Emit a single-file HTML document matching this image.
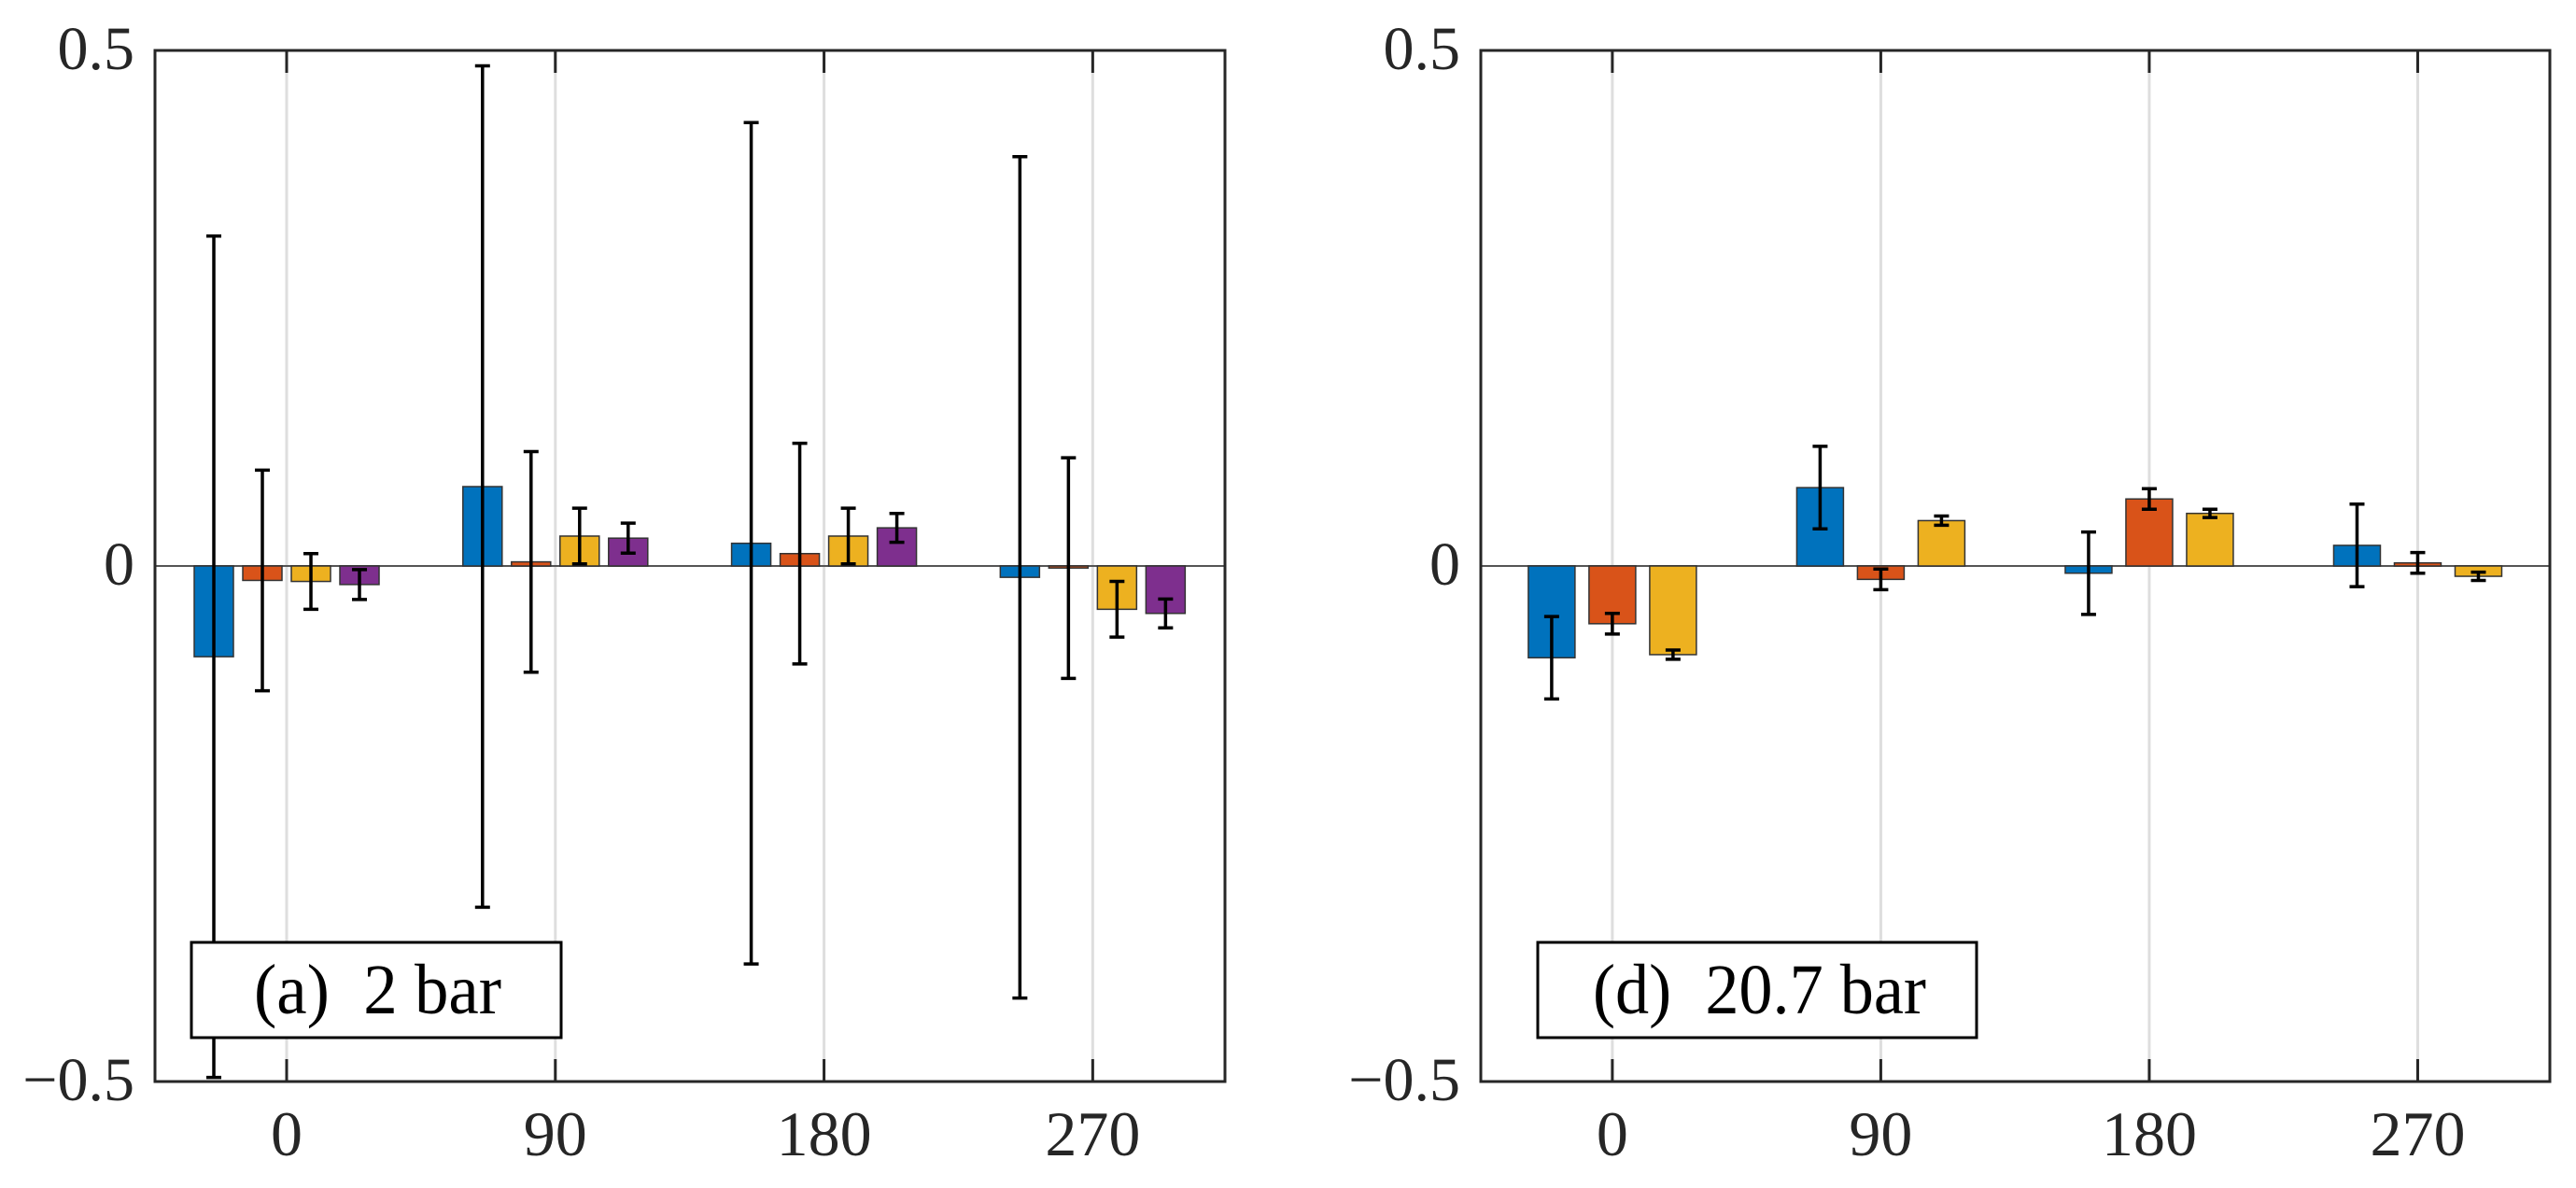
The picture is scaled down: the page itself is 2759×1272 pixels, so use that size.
<!DOCTYPE html>
<html><head><meta charset="utf-8"><style>
html,body{margin:0;padding:0;background:#fff;}
svg{display:block;}
text{white-space:pre;}
</style></head><body>
<svg id="chart" width="2759" height="1272" viewBox="0 0 2759 1272" xmlns="http://www.w3.org/2000/svg"></svg>
<script>
const categories = [0, 90, 180, 270];
const yTicks = [-0.5, 0, 0.5];
const yTickLabels = ["\u22120.5", "0", "0.5"];
const seriesColors = ["#0072BD", "#D95319", "#EDB120", "#7E2F8E"];
// Panel (a) 2 bar
const aBlue   = [-0.088, 0.077, 0.022, -0.011];
const aOrange = [-0.014, 0.004, 0.012, -0.002];
const aYellow = [-0.015, 0.029, 0.029, -0.042];
const aPurple = [-0.018, 0.027, 0.037, -0.046];
const aBlueErr   = [0.408, 0.408, 0.408, 0.408];
const aOrangeErr = [0.107, 0.107, 0.107, 0.107];
const aYellowErr = [0.027, 0.027, 0.027, 0.027];
const aPurpleErr = [0.0145, 0.0145, 0.014, 0.014];
// Panel (d) 20.7 bar
const dBlue   = [-0.089, 0.076, -0.007, 0.020];
const dOrange = [-0.056, -0.013, 0.065, 0.003];
const dYellow = [-0.086, 0.044, 0.051, -0.010];
const dBlueErr   = [0.040, 0.040, 0.040, 0.040];
const dOrangeErr = [0.010, 0.010, 0.010, 0.010];
const dYellowErr = [0.0045, 0.0045, 0.004, 0.004];

const NS = "http://www.w3.org/2000/svg";
const svg = document.getElementById('chart');
function mk(tag, attrs, parent){
  const e = document.createElementNS(NS, tag);
  for (const k in attrs) e.setAttribute(k, attrs[k]);
  (parent||svg).appendChild(e);
  return e;
}

function panel(x0, x1, label, labelName, series, errs, boxX, boxW, textX, textW, barW, spacing, pname){
  const y0 = 54, y1 = 1158;
  const g = mk('g', {});
  
  
  const xScale = d => x0 + (d + 44.1) * (x1 - x0) / 358.4;
  const yScale = v => (y0 + y1) / 2 - v * (y1 - y0);
  categories.forEach(c => {
    const l = mk('line', {x1: xScale(c), x2: xScale(c), y1: y0, y2: y1, stroke: '#dedede', 'stroke-width': 3}, g);
    
    
  });
  const zl = mk('line', {x1: x0, x2: x1, y1: yScale(0), y2: yScale(0), stroke: '#555', 'stroke-width': 2}, g);
  
  
  const n = series.length;
  series.forEach((vals, si) => {
    const off = (si - (n - 1) / 2) * spacing;
    vals.forEach((v, ci) => {
      const cx = xScale(categories[ci]) + off;
      const ya = yScale(v), yb = yScale(0);
      const r = mk('rect', {x: cx - barW/2, y: Math.min(ya, yb), width: barW, height: Math.max(Math.abs(yb - ya), 1), fill: seriesColors[si], stroke: '#333', 'stroke-width': 1.5}, g);
      
      
      const e = errs[si][ci];
      const eg = mk('g', {stroke: '#000', 'stroke-width': 3.5}, g);
      
      
      mk('line', {x1: cx, x2: cx, y1: yScale(v + e), y2: yScale(v - e)}, eg);
      mk('line', {x1: cx - 8, x2: cx + 8, y1: yScale(v + e), y2: yScale(v + e)}, eg);
      mk('line', {x1: cx - 8, x2: cx + 8, y1: yScale(v - e), y2: yScale(v - e)}, eg);
    });
  });
  const box = mk('rect', {x: x0, y: y0, width: x1 - x0, height: y1 - y0, fill: 'none', stroke: '#262626', 'stroke-width': 3}, g);
  
  
  categories.forEach(c => {
    mk('line', {x1: xScale(c), x2: xScale(c), y1: y0, y2: y0 + 24, stroke: '#262626', 'stroke-width': 3}, g);
    mk('line', {x1: xScale(c), x2: xScale(c), y1: y1, y2: y1 - 24, stroke: '#262626', 'stroke-width': 3}, g);
    const t = mk('text', {x: xScale(c), y: 1237, 'text-anchor': 'middle', 'font-family': '"Liberation Serif", serif', 'font-size': 68, fill: '#262626'}, g);
    
    
    t.textContent = String(c);
  });
  yTicks.forEach((v, i) => {
    const t = mk('text', {x: x0 - 22, y: yScale(v) + 20, 'text-anchor': 'end', 'font-family': '"Liberation Serif", serif', 'font-size': 66, fill: '#262626'}, g);
    
    
    t.textContent = yTickLabels[i];
  });
  const lg = mk('g', {}, g);
  
  
  mk('rect', {x: boxX, y: 1009, width: boxW, height: 102, fill: '#fff', stroke: '#000', 'stroke-width': 3}, lg);
  const lt = mk('text', {x: textX, y: 1085, 'font-family': '"Liberation Serif", serif', 'font-size': 76, fill: '#000', textLength: textW, lengthAdjust: 'spacingAndGlyphs'}, lg);
  lt.textContent = label;
}

panel(166, 1312, "(a)  2 bar", "panel-label-a",
  [aBlue, aOrange, aYellow, aPurple],
  [aBlueErr, aOrangeErr, aYellowErr, aPurpleErr],
  205, 396, 272, 265, 42, 52, "panel-a-2-bar");
panel(1586, 2731, "(d)  20.7 bar", "panel-label-d",
  [dBlue, dOrange, dYellow],
  [dBlueErr, dOrangeErr, dYellowErr],
  1647, 470, 1706, 357, 50, 65, "panel-d-20-7-bar");
</script>
</body></html>
